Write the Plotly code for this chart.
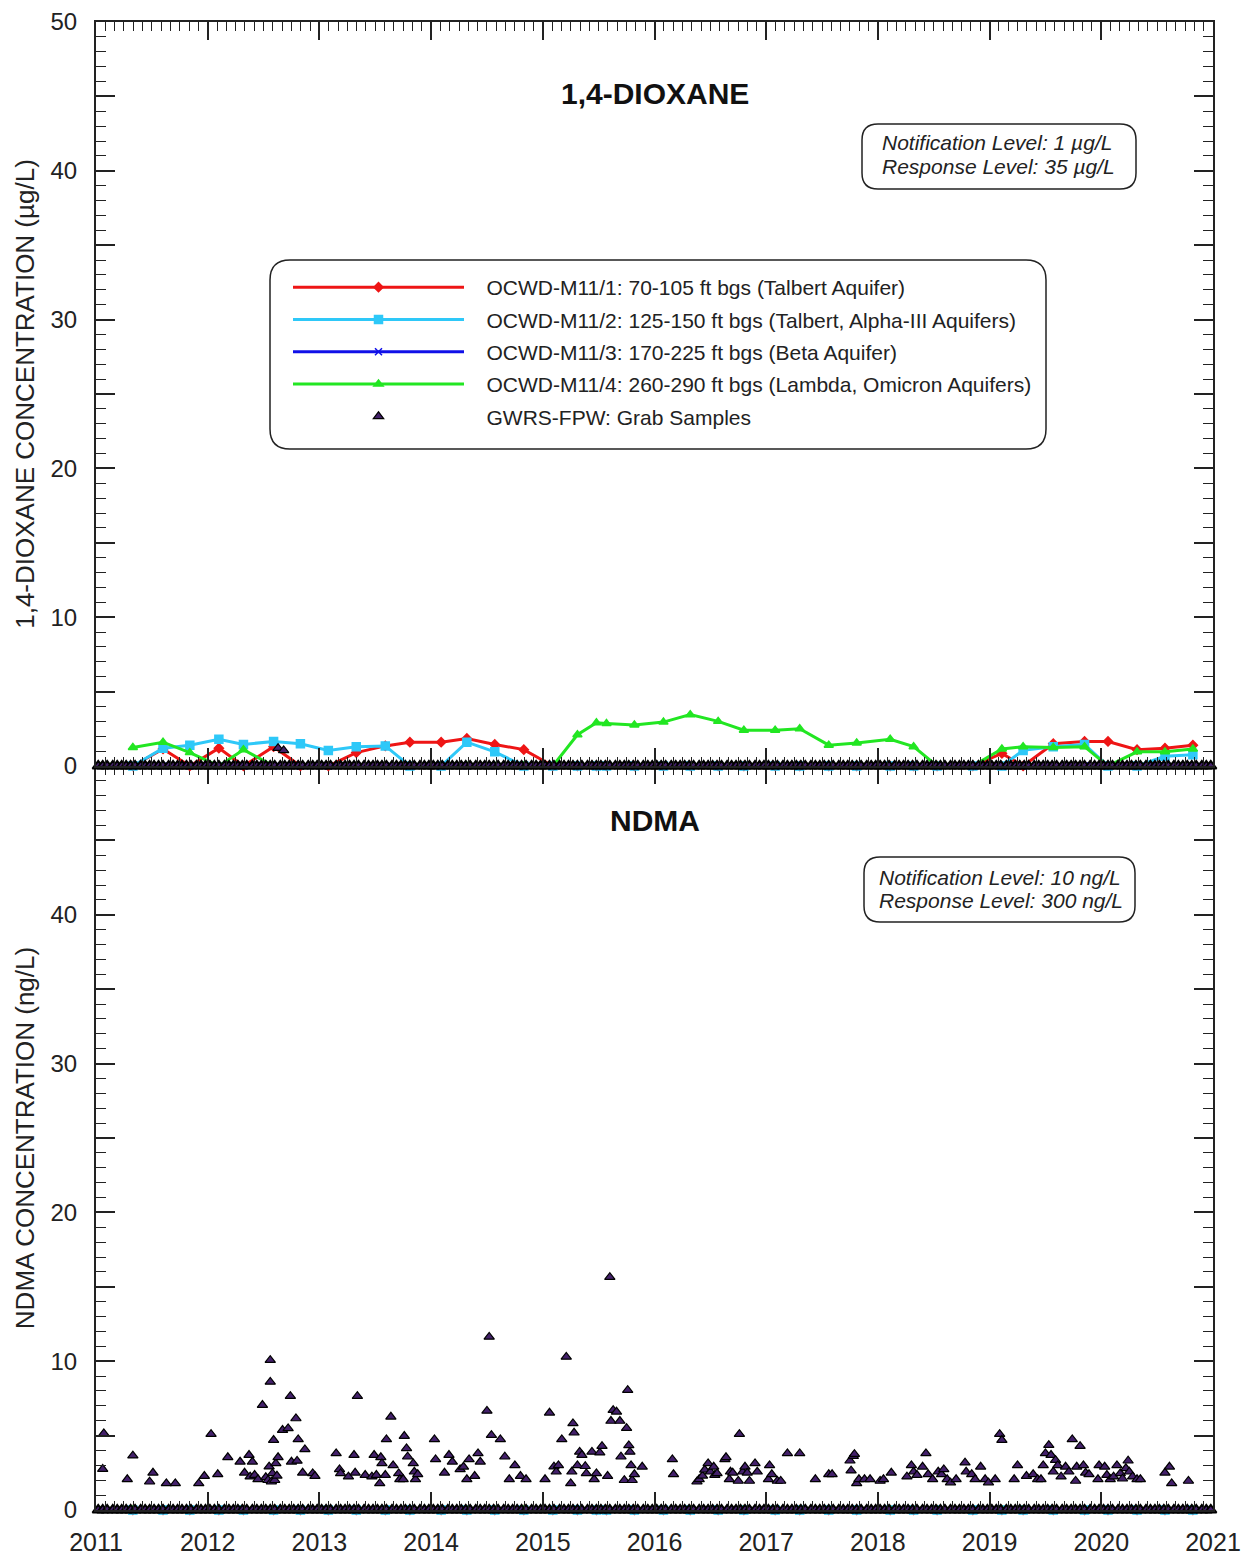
import plotly.graph_objects as go

# ---------------- DATA ----------------
# M11 monitoring well sample dates (decimal years)
m11_dates = [2011.33, 2011.60, 2011.84, 2012.10, 2012.32, 2012.59, 2012.83, 2013.08, 2013.33, 2013.59,
             2013.81, 2014.09, 2014.32, 2014.57, 2014.83, 2015.09, 2015.31, 2015.48, 2015.57, 2015.82,
             2016.08, 2016.32, 2016.57, 2016.80, 2017.08, 2017.30, 2017.56, 2017.81, 2018.11, 2018.32,
             2018.53, 2018.85, 2019.11, 2019.30, 2019.57, 2019.85, 2020.06, 2020.32, 2020.57, 2020.82]

# 1,4-dioxane (ug/L)
dx_m11_1 = [0, 1.15, 0, 1.2, 0, 1.3, 0, 0, 0.9, 1.35,
            1.6, 1.6, 1.85, 1.45, 1.1, 0, 0, 0, 0, 0,
            0, 0, 0, 0, 0, 0, 0, 0, 0, 0,
            0, 0, 0.85, 0, 1.5, 1.65, 1.65, 1.1, 1.2, 1.4]
dx_m11_2 = [0, 1.2, 1.4, 1.8, 1.45, 1.65, 1.5, 1.05, 1.3, 1.35,
            0, 0, 1.6, 0.95, 0, 0, 0, 0, 0, 0,
            0, 0, 0, 0, 0, 0, 0, 0, 0, 0,
            0, 0, 0, 1.05, 1.3, 1.45, 0, 0, 0.65, 0.75]
dx_m11_3 = [0, 0, 0, 0, 0, 0, 0, 0, 0, 0,
            0, 0, 0, 0, 0, 0, 0, 0, 0, 0,
            0, 0, 0, 0, 0, 0, 0, 0, 0, 0,
            0, 0, 0, 0, 0, 0, 0, 0, 0, 0]
dx_m11_4 = [1.25, 1.6, 0.9, 0, 1.1, 0, 0, 0, 0, 0,
            0, 0, 0, 0, 0, 0, 2.1, 2.9, 2.85, 2.75,
            2.95, 3.45, 3.0, 2.4, 2.4, 2.5, 1.4, 1.55, 1.8, 1.3,
            0, 0, 1.15, 1.3, 1.25, 1.3, 0, 0.95, 0.95, 1.15]

# NDMA (ng/L) at the M11 wells - all non-detect
ndma_m11 = [0, 0, 0, 0, 0, 0, 0, 0, 0, 0,
            0, 0, 0, 0, 0, 0, 0, 0, 0, 0,
            0, 0, 0, 0, 0, 0, 0, 0, 0, 0,
            0, 0, 0, 0, 0, 0, 0, 0, 0, 0]

# GWRS-FPW grab samples reported at zero (non-detect)
gwrs_nd_dates = [
    2011.02, 2011.06, 2011.10, 2011.15, 2011.19, 2011.23, 2011.27, 2011.31, 2011.35, 2011.40, 2011.44, 2011.48,
    2011.52, 2011.56, 2011.60, 2011.65, 2011.69, 2011.73, 2011.77, 2011.81, 2011.85, 2011.90, 2011.94, 2011.98,
    2012.02, 2012.06, 2012.10, 2012.15, 2012.19, 2012.23, 2012.27, 2012.31, 2012.35, 2012.40, 2012.44, 2012.48,
    2012.52, 2012.56, 2012.60, 2012.65, 2012.69, 2012.73, 2012.77, 2012.81, 2012.85, 2012.90, 2012.94, 2012.98,
    2013.02, 2013.06, 2013.10, 2013.15, 2013.19, 2013.23, 2013.27, 2013.31, 2013.35, 2013.40, 2013.44, 2013.48,
    2013.52, 2013.56, 2013.60, 2013.65, 2013.69, 2013.73, 2013.77, 2013.81, 2013.85, 2013.90, 2013.94, 2013.98,
    2014.02, 2014.06, 2014.10, 2014.15, 2014.19, 2014.23, 2014.27, 2014.31, 2014.35, 2014.40, 2014.44, 2014.48,
    2014.52, 2014.56, 2014.60, 2014.65, 2014.69, 2014.73, 2014.77, 2014.81, 2014.85, 2014.90, 2014.94, 2014.98,
    2015.02, 2015.06, 2015.10, 2015.15, 2015.19, 2015.23, 2015.27, 2015.31, 2015.35, 2015.40, 2015.44, 2015.48,
    2015.52, 2015.56, 2015.60, 2015.65, 2015.69, 2015.73, 2015.77, 2015.81, 2015.85, 2015.90, 2015.94, 2015.98,
    2016.02, 2016.06, 2016.10, 2016.15, 2016.19, 2016.23, 2016.27, 2016.31, 2016.35, 2016.40, 2016.44, 2016.48,
    2016.52, 2016.56, 2016.60, 2016.65, 2016.69, 2016.73, 2016.77, 2016.81, 2016.85, 2016.90, 2016.94, 2016.98,
    2017.02, 2017.06, 2017.10, 2017.15, 2017.19, 2017.23, 2017.27, 2017.31, 2017.35, 2017.40, 2017.44, 2017.48,
    2017.52, 2017.56, 2017.60, 2017.65, 2017.69, 2017.73, 2017.77, 2017.81, 2017.85, 2017.90, 2017.94, 2017.98,
    2018.02, 2018.06, 2018.10, 2018.15, 2018.19, 2018.23, 2018.27, 2018.31, 2018.35, 2018.40, 2018.44, 2018.48,
    2018.52, 2018.56, 2018.60, 2018.65, 2018.69, 2018.73, 2018.77, 2018.81, 2018.85, 2018.90, 2018.94, 2018.98,
    2019.02, 2019.06, 2019.10, 2019.15, 2019.19, 2019.23, 2019.27, 2019.31, 2019.35, 2019.40, 2019.44, 2019.48,
    2019.52, 2019.56, 2019.60, 2019.65, 2019.69, 2019.73, 2019.77, 2019.81, 2019.85, 2019.90, 2019.94, 2019.98,
    2020.02, 2020.06, 2020.10, 2020.15, 2020.19, 2020.23, 2020.27, 2020.31, 2020.35, 2020.40, 2020.44, 2020.48,
    2020.52, 2020.56, 2020.60, 2020.65, 2020.69, 2020.73, 2020.77, 2020.81, 2020.85, 2020.90, 2020.94, 2020.98,
]
gwrs_nd_values = [0] * len(gwrs_nd_dates)

# GWRS-FPW 1,4-dioxane detections (ug/L)
gwrs_dx_det_dates = [2012.63, 2012.68]
gwrs_dx_det_values = [1.2, 1.05]

# GWRS-FPW NDMA detections (ng/L)
gwrs_ndma_dates = [
    2011.07, 2011.06, 2011.28, 2011.33, 2011.48, 2011.51, 2011.63, 2011.71, 2011.92, 2011.97,
    2012.03, 2012.09, 2012.18, 2012.29, 2012.33, 2012.37, 2012.38, 2012.40, 2012.42, 2012.45,
    2012.49, 2012.52, 2012.54, 2012.55, 2012.56, 2012.56, 2012.57, 2012.58, 2012.59, 2012.60,
    2012.61, 2012.62, 2012.63, 2012.67, 2012.72, 2012.74, 2012.75, 2012.79, 2012.80, 2012.81,
    2012.85, 2012.87, 2012.94, 2012.96, 2013.15, 2013.18, 2013.19, 2013.26, 2013.31, 2013.32,
    2013.34, 2013.41, 2013.47, 2013.49, 2013.51, 2013.54, 2013.55, 2013.56, 2013.59, 2013.60,
    2013.64, 2013.66, 2013.71, 2013.72, 2013.76, 2013.75, 2013.78, 2013.79, 2013.84, 2013.85,
    2013.86, 2013.88, 2014.03, 2014.04, 2014.12, 2014.16, 2014.19, 2014.26, 2014.29, 2014.32,
    2014.34, 2014.39, 2014.42, 2014.44, 2014.50, 2014.52, 2014.54, 2014.62, 2014.66, 2014.70,
    2014.75, 2014.80, 2014.85, 2015.02, 2015.06, 2015.10, 2015.12, 2015.14, 2015.17, 2015.21,
    2015.25, 2015.26, 2015.27, 2015.28, 2015.31, 2015.33, 2015.35, 2015.38, 2015.39, 2015.44,
    2015.46, 2015.48, 2015.51, 2015.53, 2015.58, 2015.60, 2015.61, 2015.63, 2015.66, 2015.69,
    2015.70, 2015.73, 2015.76, 2015.75, 2015.77, 2015.78, 2015.79, 2015.80, 2015.82, 2015.89,
    2016.16, 2016.17, 2016.38, 2016.40, 2016.43, 2016.45, 2016.48, 2016.50, 2016.53, 2016.54,
    2016.56, 2016.63, 2016.64, 2016.67, 2016.68, 2016.70, 2016.76, 2016.75, 2016.79, 2016.81,
    2016.83, 2016.85, 2016.90, 2016.92, 2017.02, 2017.03, 2017.05, 2017.10, 2017.13, 2017.19,
    2017.30, 2017.44, 2017.56, 2017.59, 2017.75, 2017.76, 2017.78, 2017.79, 2017.81, 2017.83,
    2017.88, 2017.93, 2018.02, 2018.05, 2018.12, 2018.26, 2018.30, 2018.32, 2018.35, 2018.40,
    2018.43, 2018.45, 2018.49, 2018.54, 2018.57, 2018.59, 2018.62, 2018.65, 2018.70, 2018.78,
    2018.79, 2018.84, 2018.87, 2018.92, 2018.96, 2018.99, 2019.05, 2019.09, 2019.11, 2019.22,
    2019.25, 2019.33, 2019.39, 2019.43, 2019.46, 2019.48, 2019.50, 2019.53, 2019.55, 2019.57,
    2019.59, 2019.61, 2019.64, 2019.68, 2019.71, 2019.74, 2019.77, 2019.78, 2019.81, 2019.84,
    2019.86, 2019.89, 2019.97, 2019.98, 2020.03, 2020.05, 2020.08, 2020.11, 2020.14, 2020.17,
    2020.19, 2020.22, 2020.24, 2020.25, 2020.28, 2020.32, 2020.35, 2020.57, 2020.61, 2020.63,
    2020.78,
]
gwrs_ndma_values = [
    5.15, 2.75, 2.06, 3.65, 1.9, 2.5, 1.79, 1.79, 1.79, 2.28,
    5.1, 2.4, 3.54, 3.24, 2.5, 3.69, 2.24, 3.24, 2.35, 2.06,
    7.05, 2.2, 2.0, 2.91, 10.07, 8.61, 1.9, 2.46, 4.7, 2.0,
    3.13, 2.3, 3.54, 5.37, 5.48, 7.65, 3.24, 6.15, 3.3, 4.74,
    2.5, 4.07, 2.46, 2.28, 3.8, 2.73, 2.46, 2.24, 3.69, 2.5,
    7.65, 2.35, 2.24, 3.69, 2.35, 1.79, 3.54, 3.13, 2.35, 4.74,
    6.26, 3.0, 2.46, 2.06, 4.97, 2.06, 4.14, 3.58, 3.13, 2.57,
    2.06, 2.4, 4.74, 3.4, 2.5, 3.69, 3.24, 2.73, 2.9, 2.06,
    3.4, 2.28, 3.8, 3.24, 6.66, 11.63, 5.03, 4.74, 3.58, 2.06,
    3.0, 2.28, 2.06, 2.06, 6.53, 2.91, 2.57, 3.0, 4.74, 10.29,
    1.79, 2.57, 5.82, 5.19, 3.0, 3.9, 3.69, 2.94, 2.46, 3.9,
    2.06, 2.46, 3.85, 4.29, 2.28, 15.65, 5.98, 6.71, 6.6, 5.98,
    3.58, 2.0, 8.05, 5.5, 4.34, 3.9, 3.0, 2.0, 2.4, 2.9,
    3.4, 2.4, 1.9, 2.06, 2.3, 2.7, 3.13, 2.57, 2.9, 2.35,
    2.46, 3.4, 3.54, 2.06, 2.57, 2.5, 5.1, 1.95, 2.57, 2.9,
    2.5, 1.95, 3.13, 2.57, 2.06, 3.0, 2.4, 1.95, 1.95, 3.8,
    3.8, 2.06, 2.4, 2.4, 3.31, 2.64, 3.62, 3.75, 1.79, 2.06,
    2.06, 2.06, 1.95, 2.06, 2.5, 2.24, 3.0, 2.57, 2.35, 2.9,
    3.8, 2.4, 2.06, 2.57, 2.4, 2.73, 2.06, 1.84, 2.06, 3.18,
    2.57, 2.4, 2.06, 2.9, 2.06, 1.84, 2.06, 5.1, 4.7, 2.06,
    3.0, 2.28, 2.4, 2.06, 2.06, 3.0, 3.8, 4.36, 3.69, 2.57,
    3.35, 3.0, 2.24, 2.9, 2.57, 4.74, 1.95, 2.9, 4.29, 3.0,
    2.5, 2.4, 2.06, 3.0, 2.9, 2.35, 2.06, 2.24, 3.0, 2.46,
    2.1, 2.8, 3.31, 2.57, 2.24, 2.06, 2.06, 2.5, 2.9, 1.79,
    1.95,
]

series_names = [
    "OCWD-M11/1: 70-105 ft bgs (Talbert Aquifer)",
    "OCWD-M11/2: 125-150 ft bgs (Talbert, Alpha-III Aquifers)",
    "OCWD-M11/3: 170-225 ft bgs (Beta Aquifer)",
    "OCWD-M11/4: 260-290 ft bgs (Lambda, Omicron Aquifers)",
    "GWRS-FPW: Grab Samples",
]

year_ticks = [2011, 2012, 2013, 2014, 2015, 2016, 2017, 2018, 2019, 2020, 2021]
year_labels = ["2011", "2012", "2013", "2014", "2015", "2016", "2017", "2018", "2019", "2020", "2021"]
conc_ticks = [0, 5, 10, 15, 20, 25, 30, 35, 40, 45, 50]
conc_labels_top = ["0", "", "10", "", "20", "", "30", "", "40", "", "50"]
conc_labels_bot = ["0", "", "10", "", "20", "", "30", "", "40", "", ""]

# ---------------- STYLE ----------------
FONT = "Arial, 'Liberation Sans', sans-serif"
INK = "#222222"
styles = [
    dict(color="#EE1515", symbol="diamond", size=7),
    dict(color="#2EC8F8", symbol="square", size=8),
    dict(color="#1010E8", symbol="x-thin", size=7),
    dict(color="#22E622", symbol="triangle-up", size=8),
]
PURPLE = "#43206A"
GW_SIZE = 9
ND_SIZE = 10

W, H = 1247, 1557
L, R, T, B = 96, 34, 22, 47
PW, PH = W - L - R, H - T - B
PAD = "\u00a0\u00a0\u00a0"


def px(x):
    return (x - L) / PW


def py(y):
    return (H - B - y) / PH


def rrect(x0, y0, x1, y1, r=16):
    rx, ry = r / PW, r / PH
    X0, X1, Y0, Y1 = px(x0), px(x1), py(y0), py(y1)
    return (f"M{X0+rx},{Y0} L{X1-rx},{Y0} Q{X1},{Y0} {X1},{Y0-ry} "
            f"L{X1},{Y1+ry} Q{X1},{Y1} {X1-rx},{Y1} L{X0+rx},{Y1} "
            f"Q{X0},{Y1} {X0},{Y1+ry} L{X0},{Y0-ry} Q{X0},{Y0} {X0+rx},{Y0} Z")


def m11_trace(i, y, xa, ya, legend):
    st = styles[i]
    return go.Scatter(
        x=m11_dates, y=y, mode="lines+markers", name=PAD + series_names[i],
        showlegend=legend,
        line=dict(color=st["color"], width=3),
        marker=dict(symbol=st["symbol"], size=st["size"], color=st["color"],
                    line=dict(color=st["color"], width=1.5)),
        xaxis=xa, yaxis=ya, cliponaxis=False, legendgroup=f"g{i}",
    )


def gwrs_trace(x, y, size, lw, xa, ya, legend):
    return go.Scatter(
        x=x, y=y, mode="markers", name=PAD + series_names[4], showlegend=legend,
        marker=dict(symbol="triangle-up", size=size, color=PURPLE,
                    line=dict(color="#000000", width=lw)),
        xaxis=xa, yaxis=ya, cliponaxis=False, legendgroup="g4",
    )


fig = go.Figure()

dx_series = [dx_m11_1, dx_m11_2, dx_m11_3, dx_m11_4]

# ---- top panel (1,4-dioxane) ----
for i, vals in enumerate(dx_series):
    fig.add_trace(m11_trace(i, vals, "x2", "y2", True))
fig.add_trace(gwrs_trace(gwrs_nd_dates, gwrs_nd_values, ND_SIZE, 2, "x2", "y2", False))
fig.add_trace(gwrs_trace(gwrs_dx_det_dates, gwrs_dx_det_values, GW_SIZE, 1.2, "x2", "y2", True))

# ---- bottom panel (NDMA) ----
for i in [0, 2, 1, 3]:
    fig.add_trace(m11_trace(i, ndma_m11, "x", "y", False))
fig.add_trace(gwrs_trace(gwrs_nd_dates, gwrs_nd_values, ND_SIZE, 2, "x", "y", False))
fig.add_trace(gwrs_trace(gwrs_ndma_dates, gwrs_ndma_values, GW_SIZE, 1.2, "x", "y", False))

xtickfont = dict(family=FONT, size=25, color=INK)
ytickfont = dict(family=FONT, size=24, color=INK)
xcommon = dict(range=[2011, 2021], tickvals=year_ticks, ticktext=year_labels,
               ticks="inside", ticklen=18, tickwidth=1.5, tickcolor=INK,
               showline=True, linecolor=INK, linewidth=2, mirror="ticks",
               showgrid=False, zeroline=False, tickfont=xtickfont, ticklabelstandoff=9,
               minor=dict(dtick=1 / 12, tick0=2011, ticks="inside", ticklen=9,
                          tickwidth=1, tickcolor=INK, showgrid=False))
ycommon = dict(range=[0, 50], tickvals=conc_ticks, ticks="inside", ticklen=19,
               tickwidth=1.5, tickcolor=INK, showline=True, linecolor=INK, linewidth=2,
               mirror="ticks", showgrid=False, zeroline=False, tickfont=ytickfont,
               ticklabelstandoff=12,
               minor=dict(dtick=1, ticks="inside", ticklen=10, tickwidth=1,
                          tickcolor=INK, showgrid=False))

fig.update_layout(
    width=W, height=H,
    margin=dict(l=L, r=R, t=T, b=B, autoexpand=False),
    paper_bgcolor="white", plot_bgcolor="white",
    font=dict(family=FONT, color=INK),
    xaxis=dict(anchor="y", **xcommon),
    xaxis2=dict(anchor="y2", showticklabels=False, **xcommon),
    yaxis=dict(domain=[0, 0.5], anchor="x", ticktext=conc_labels_bot,
               title=dict(text="NDMA CONCENTRATION (ng/L)", font=dict(family=FONT, size=26, color=INK),
                          standoff=8),
               **ycommon),
    yaxis2=dict(domain=[0.5, 1], anchor="x2", ticktext=conc_labels_top,
                title=dict(text="1,4-DIOXANE CONCENTRATION (µg/L)",
                           font=dict(family=FONT, size=26, color=INK), standoff=8),
                **ycommon),
    showlegend=True,
    legend=dict(x=px(288), y=py(267), xanchor="left", yanchor="top",
                bgcolor="rgba(0,0,0,0)", borderwidth=0,
                font=dict(family=FONT, size=21, color=INK),
                itemwidth=171, tracegroupgap=2, traceorder="grouped",
                itemclick=False, itemdoubleclick=False),
)

shapes = [
    dict(type="path", xref="paper", yref="paper", path=rrect(270, 260, 1046, 449, 20),
         line=dict(color=INK, width=1.5), layer="above"),
    dict(type="path", xref="paper", yref="paper", path=rrect(862, 124, 1136, 189, 16),
         line=dict(color=INK, width=1.5), layer="above"),
    dict(type="path", xref="paper", yref="paper", path=rrect(864, 857, 1135, 922, 16),
         line=dict(color=INK, width=1.5), layer="above"),
]
fig.update_layout(shapes=shapes)

ann = [
    dict(text="<b>1,4-DIOXANE</b>", x=0.5, y=py(93), font=dict(family=FONT, size=30, color="#111")),
    dict(text="<b>NDMA</b>", x=0.5, y=py(820), font=dict(family=FONT, size=30, color="#111")),
    dict(text="<i>Notification Level: 1 µg/L</i>", x=px(880), y=py(143), xanchor="left",
         font=dict(family=FONT, size=21, color=INK)),
    dict(text="<i>Response Level: 35 µg/L</i>", x=px(880), y=py(166), xanchor="left",
         font=dict(family=FONT, size=21, color=INK)),
    dict(text="<i>Notification Level: 10 ng/L</i>", x=px(877), y=py(877), xanchor="left",
         font=dict(family=FONT, size=21, color=INK)),
    dict(text="<i>Response Level: 300 ng/L</i>", x=px(877), y=py(900), xanchor="left",
         font=dict(family=FONT, size=21, color=INK)),
]
for a in ann:
    a.update(xref="paper", yref="paper", showarrow=False)
    a.setdefault("xanchor", "center")
    a["yanchor"] = "middle"
fig.update_layout(annotations=ann)

fig.write_html("out.html", config={"displayModeBar": False},
               post_script="document.body.style.margin='0';document.body.style.overflow='hidden';")
